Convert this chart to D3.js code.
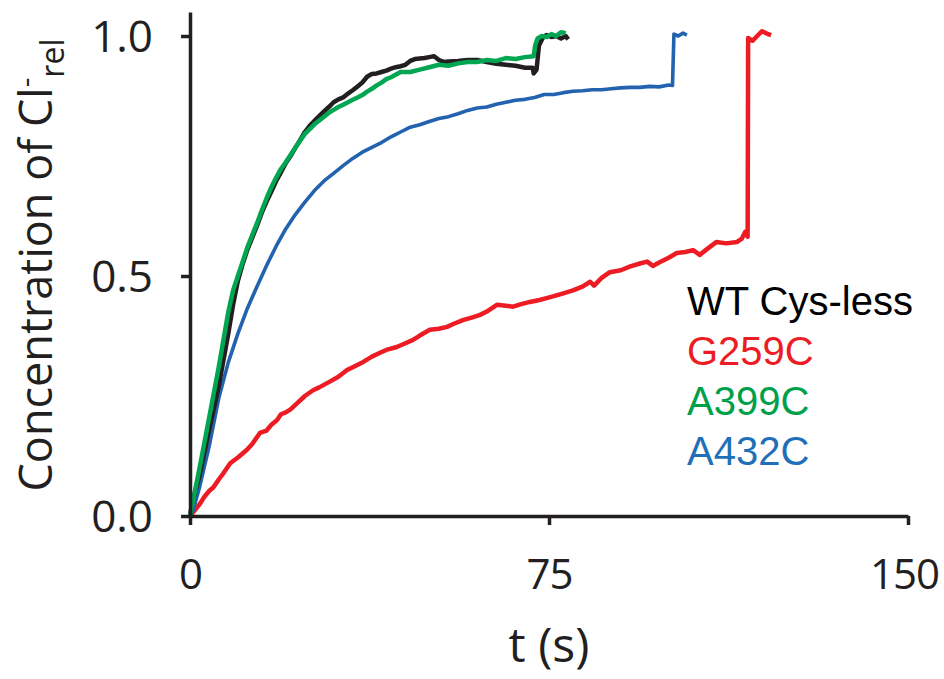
<!DOCTYPE html>
<html>
<head>
<meta charset="utf-8">
<script src="https://cdn.jsdelivr.net/npm/d3@7"></script>
<style>
  body { margin: 0; background: #fff; }
  svg { display: block; }
</style>
</head>
<body>
<div id="chart"></div>
<script>
// time (s), relative Cl- concentration
const wtCysLess = [[0,0],[0.4,0.025],[2,0.085],[4,0.18],[6,0.27],[8,0.38],[9,0.44],[10,0.49],[11,0.525],[12,0.555],
  [13,0.58],[14,0.605],[15,0.632],[16,0.655],[17,0.676],[18,0.698],[19,0.716],[20,0.735],[21,0.75],[22,0.767],
  [23,0.783],[24,0.8],[25,0.813],[26,0.823],[27,0.833],[28,0.843],[29,0.852],[30,0.862],[31,0.868],[32,0.872],
  [33,0.88],[34,0.887],[35,0.895],[36,0.903],[37,0.915],[38,0.921],[39,0.922],[40,0.925],[41,0.928],[42,0.932],
  [43,0.935],[44,0.937],[45,0.94],[46,0.948],[47,0.952],[48,0.953],[49,0.954],[50,0.956],[51,0.958],[52,0.95],
  [53,0.946],[54,0.947],[56,0.948],[58,0.95],[60,0.95],[62,0.946],[64,0.942],[66,0.94],[68,0.938],[70,0.934],
  [71.6,0.934],[71.8,0.922],[72.4,0.93],[72.9,0.98],[73.8,0.998],[74.5,1.002],[75.5,0.998],[76.5,1.0],[77.5,0.995],
  [78.5,1.0],[79,0.993]]

const g259c = [[0,0],[1,0.012],[2.1,0.026],[3,0.04],[4,0.052],[4.9,0.06],[6,0.076],[6.9,0.088],[8.4,0.11],[10,0.122],
  [11.9,0.138],[13,0.15],[14.6,0.173],[16,0.178],[17,0.19],[18.2,0.2],[19,0.212],[20,0.216],[21,0.222],[22.4,0.235],
  [24,0.25],[25.7,0.262],[27,0.268],[29.2,0.28],[31,0.29],[32.8,0.304],[34,0.31],[36.2,0.321],[38,0.332],[39.7,0.34],
  [41,0.346],[43.2,0.352],[45,0.36],[46.6,0.367],[48,0.376],[50.1,0.388],[52,0.39],[53.7,0.394],[55,0.4],[57,0.408],
  [59,0.414],[60.6,0.419],[62,0.426],[64.1,0.44],[66,0.438],[67.5,0.436],[69,0.441],[71,0.446],[73,0.45],[74.5,0.454],
  [76,0.458],[78,0.464],[80,0.47],[82,0.478],[83.6,0.488],[84.4,0.48],[86,0.496],[87.7,0.508],[90,0.512],[92,0.52],
  [94,0.526],[95.5,0.53],[96.7,0.521],[98,0.528],[100,0.538],[101.7,0.548],[103.5,0.55],[105.1,0.554],[106.5,0.544],[108,0.556],
  [110,0.571],[112,0.568],[114.3,0.571],[115.3,0.578],[116,0.592],[116.5,0.582],[116.6,0.996],[117.5,0.99],[118.5,1.0],[119.5,1.01],
  [120.5,1.005],[121.4,1.002]]

const a399c = [[0,0],[2,0.1],[4,0.205],[6,0.31],[8,0.425],[9,0.47],[10,0.5],[11,0.53],[12,0.56],[13,0.585],
  [14,0.61],[15,0.637],[16,0.662],[17,0.685],[18,0.705],[19,0.723],[20,0.737],[21,0.752],[22,0.767],[23,0.782],
  [24,0.796],[25,0.806],[26,0.816],[27,0.824],[28,0.832],[29,0.84],[30,0.846],[31,0.852],[32,0.857],[33,0.862],
  [34,0.867],[35,0.872],[36,0.877],[37,0.884],[38,0.89],[39,0.897],[40,0.903],[41,0.91],[42,0.914],[44,0.925],
  [46,0.925],[48,0.93],[50,0.935],[52,0.94],[54,0.938],[56,0.943],[58,0.946],[60,0.946],[62,0.95],[64,0.948],
  [66,0.954],[68,0.952],[70,0.956],[71.8,0.958],[72.1,0.98],[72.6,0.995],[73.5,1.0],[74.5,0.998],[75.5,1.004],[76.5,1.0],
  [77.5,1.008],[78.5,1.006]]

const a432c = [[0,0],[0.6,0.01],[2,0.06],[4,0.145],[6,0.245],[8,0.32],[10,0.38],[12,0.433],[14,0.478],[16,0.522],
  [18,0.562],[20,0.598],[22,0.628],[24,0.654],[26,0.678],[28,0.698],[30,0.714],[32,0.73],[34,0.745],[36,0.758],
  [38,0.768],[40,0.778],[42,0.79],[44,0.8],[46,0.81],[48,0.815],[50,0.822],[52,0.828],[54,0.832],[56,0.838],
  [58,0.845],[60,0.85],[62,0.852],[64,0.858],[66,0.862],[68,0.866],[70,0.868],[72,0.872],[74,0.878],[76,0.878],
  [78,0.882],[80,0.885],[82,0.886],[84,0.888],[86,0.888],[88,0.89],[90,0.892],[92,0.893],[94,0.893],[96,0.895],
  [98,0.894],[100,0.898],[100.8,0.897],[101.1,1.004],[102,1.0],[103,1.006],[103.8,1.002]]

const seriesNames = ["WT Cys-less", "G259C", "A399C", "A432C"]
const seriesData = [wtCysLess, g259c, a399c, a432c]
const seriesColors = ["#231f20", "#ed1c24", "#00a651", "#2262ae"]
const legendColors = ["#000000", "#ed1c24", "#00a04b", "#1f70b8"]
const xTicks = [0, 75, 150]
const yTicks = [0, 0.5, 1.0]

const width = 944, height = 679
const axisFont = "'Open Sans', 'Noto Sans', sans-serif"

const svg = d3.select("#chart").append("svg")
    .attr("width", width)
    .attr("height", height)

const x = d3.scaleLinear().domain([0, 150]).range([190, 908])
const y = d3.scaleLinear().domain([0, 1.05]).range([516, 12])

const line = d3.line()
    .x(d => x(d[0]))
    .y(d => y(d[1]))

// draw order: red, blue, black, green on top
const order = [1, 3, 0, 2]
const widths = [4.5, 4.5, 4.5, 3.6]
svg.append("g")
  .selectAll("path")
  .data(order)
  .join("path")
    .attr("d", i => line(seriesData[i]))
    .attr("fill", "none")
    .attr("stroke", i => seriesColors[i])
    .attr("stroke-width", i => widths[i])
    .attr("stroke-linejoin", "round")

// axes
const xAxis = svg.append("g")
    .attr("transform", `translate(0, ${y(0)})`)
    .call(d3.axisBottom(x).tickValues(xTicks).tickSize(9).tickSizeOuter(0).tickPadding(34).tickFormat(d3.format("d")))
const yAxis = svg.append("g")
    .attr("transform", `translate(${x(0)}, 0)`)
    .call(d3.axisLeft(y).tickValues(yTicks).tickSize(9).tickSizeOuter(0).tickPadding(28).tickFormat(d3.format(".1f")))

for (const ax of [xAxis, yAxis]) {
  ax.select(".domain").attr("stroke", "#231f20").attr("stroke-width", 3.5)
  ax.selectAll(".tick line").attr("stroke", "#231f20").attr("stroke-width", 3.5)
  ax.selectAll(".tick text")
      .attr("fill", "#231f20")
      .style("font-family", axisFont)
      .style("font-size", "44px")
}
yAxis.selectAll(".tick text").attr("dy", "0.36em")
xAxis.selectAll(".tick text")
    .style("font-size", "42px")
    .style("letter-spacing", "-1px")
    .attr("dx", d => d === 150 ? -4 : 0)

// axis titles
svg.append("text")
    .attr("x", x(75))
    .attr("y", 662)
    .attr("text-anchor", "middle")
    .attr("fill", "#231f20")
    .style("font-family", axisFont)
    .style("font-size", "48px")
    .text("t (s)")

const yTitle = svg.append("text")
    .attr("transform", "translate(52, 265) rotate(-90)")
    .attr("text-anchor", "middle")
    .attr("fill", "#231f20")
    .style("font-family", axisFont)
    .style("font-size", "45px")
yTitle.append("tspan").text("Concentration of Cl")
yTitle.append("tspan").attr("dy", -16).style("font-size", "30px").text("-")
yTitle.append("tspan").attr("dy", 28).style("font-size", "32px").text("rel")

// legend
svg.append("g")
  .selectAll("text")
  .data(seriesNames)
  .join("text")
    .attr("x", 687)
    .attr("y", (d, i) => 315 + i * 50)
    .attr("fill", (d, i) => legendColors[i])
    .style("font-family", "'Liberation Sans', Arial, sans-serif")
    .style("font-size", "40px")
    .text(d => d)
</script>
</body>
</html>
